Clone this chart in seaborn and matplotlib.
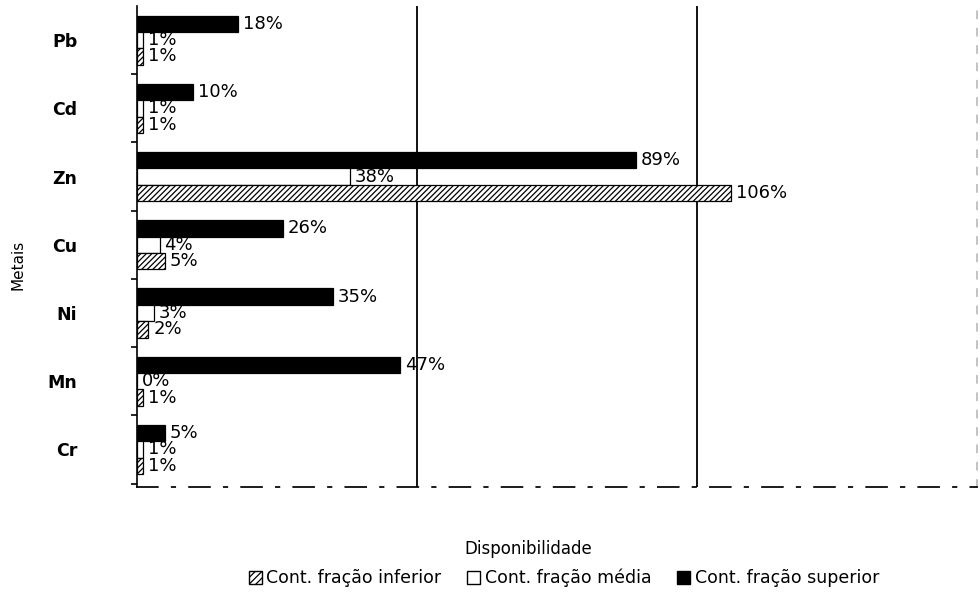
import matplotlib
matplotlib.use("Agg")
import matplotlib.pyplot as plt
import matplotlib.patches as mpatches
import numpy as np
import pandas as pd
import seaborn as sns

# Metals (top to bottom) and availability (%) per soil fraction
metais = ["Pb", "Cd", "Zn", "Cu", "Ni", "Mn", "Cr"]
fracao_superior = [18, 10, 89, 26, 35, 47, 5]
fracao_media = [1, 1, 38, 4, 3, 0, 1]
fracao_inferior = [1, 1, 106, 5, 2, 1, 1]

serie_nomes = ["Cont. fração superior", "Cont. fração média", "Cont. fração inferior"]
legenda_nomes = ["Cont. fração inferior", "Cont. fração média", "Cont. fração superior"]

df = pd.DataFrame({
    "Metais": metais * 3,
    "Disponibilidade": fracao_superior + fracao_media + fracao_inferior,
    "Serie": [serie_nomes[0]] * 7 + [serie_nomes[1]] * 7 + [serie_nomes[2]] * 7,
})

sns.set_theme(style="white")
plt.rcParams["font.family"] = ["DejaVu Sans"]
plt.rcParams["hatch.linewidth"] = 0.9
plt.rcParams["text.color"] = "black"
plt.rcParams["ytick.color"] = "black"
plt.rcParams["ytick.labelcolor"] = "black"

fig = plt.figure(figsize=(9.8, 5.99), dpi=100)
ax = fig.add_axes([0.140, 0.187, 0.857, 0.803])

estilos = {
    serie_nomes[0]: dict(facecolor="black", hatch=None),
    serie_nomes[1]: dict(facecolor="white", hatch=None),
    serie_nomes[2]: dict(facecolor="white", hatch="//////"),
}

sns.barplot(data=df, x="Disponibilidade", y="Metais", hue="Serie",
            hue_order=serie_nomes, order=metais, orient="h",
            width=0.72, gap=0, legend=False, ax=ax, saturation=1)

for cont, nome in zip(ax.containers, serie_nomes):
    st = estilos[nome]
    for bar in cont:
        bar.set_facecolor(st["facecolor"])
        bar.set_edgecolor("black")
        bar.set_linewidth(0.9)
        if st["hatch"]:
            bar.set_hatch(st["hatch"])
    ax.bar_label(cont, fmt="%d%%", padding=3.5, fontsize=13, color="black")

ax.set_xlim(0, 150)
ax.set_ylim(len(metais) - 0.45, -0.5)

# vertical reference lines
ax.axvline(50, color="black", lw=1.3, zorder=0)
ax.axvline(100, color="black", lw=1.3, zorder=0)

ax.spines["top"].set_visible(False)
ax.spines["right"].set_color("#bbbbbb")
ax.spines["right"].set_linestyle((0, (4, 6)))
ax.spines["bottom"].set_color("black")
ax.spines["bottom"].set_linestyle((0, (12, 8, 2, 8)))
ax.spines["left"].set_color("black")
ax.spines["left"].set_linewidth(1.2)

ax.set_xticks([])
ax.set_yticks(range(len(metais)))
ax.set_yticklabels(metais, fontsize=12.5, fontweight="bold", color="black")
ax.set_yticks(np.arange(len(metais)) + 0.5, minor=True)
ax.tick_params(axis="y", which="major", length=0, pad=43)
ax.tick_params(axis="y", which="minor", length=4, width=1.2, color="black", left=True)

ax.set_xlabel("")
ax.set_ylabel("")
fig.text(528 / 980, 1 - 549 / 599, "Disponibilidade", ha="center", va="center", fontsize=12)
fig.text(18 / 980, 1 - 265 / 599, "Metais", ha="center", va="center", rotation=90, fontsize=11)

handles = [
    mpatches.Patch(facecolor="white", edgecolor="black", hatch="/////", label=legenda_nomes[0]),
    mpatches.Patch(facecolor="white", edgecolor="black", label=legenda_nomes[1]),
    mpatches.Patch(facecolor="black", edgecolor="black", label=legenda_nomes[2]),
]
fig.legend(handles=handles, loc="center", bbox_to_anchor=(564 / 980, 1 - 578 / 599), ncol=3,
           frameon=False, fontsize=12.5, handlelength=0.75, handleheight=0.75,
           handletextpad=0.25, columnspacing=1.5, borderpad=0, labelcolor="black")

fig.savefig("out.png", dpi=100, facecolor="white")
